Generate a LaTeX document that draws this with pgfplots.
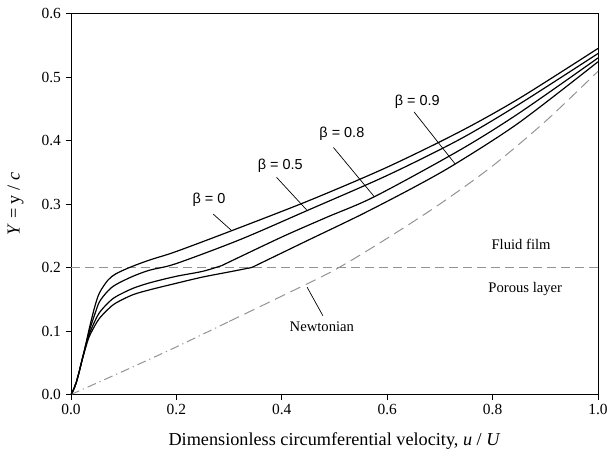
\documentclass[border=0pt]{standalone}
\usepackage{fontspec}
\setmainfont{Liberation Serif}
\newfontfamily\arialfont{Liberation Sans}
\usepackage{pgfplots}
\pgfplotsset{compat=1.18}
\begin{document}
\fontsize{14.7}{17}\selectfont
\begin{tikzpicture}
\begin{axis}[
  scale only axis, width=527bp, height=381bp,
  xmin=0, xmax=1, ymin=0, ymax=0.6,
  xtick={0,0.2,0.4,0.6,0.8,1}, ytick={0,0.1,0.2,0.3,0.4,0.5,0.6},
  tick align=outside, tick pos=left, major tick length=5bp,
  xticklabel style={/pgf/number format/.cd, fixed, fixed zerofill, precision=1, assume math mode=true},
  yticklabel style={/pgf/number format/.cd, fixed, fixed zerofill, precision=1, assume math mode=true},
  tick label style={font=\fontsize{15.5}{17}\selectfont},
  label style={font=\fontsize{18.3}{21}\selectfont},
  xlabel={Dimensionless circumferential velocity, \textit{u} / \textit{U}},
  ylabel={\textit{Y} = y / \textit{c}},
  xlabel style={at={(axis description cs:0.5,-0.122)}, anchor=center},
  ylabel style={at={(axis description cs:-0.1053,0.5)}, anchor=center},
  axis line style={line width=1pt},
  every tick/.style={black, line width=0.9pt},
]
% interface line
\addplot[gray!85, dashed, dash pattern=on 9bp off 5bp, line width=0.9pt] coordinates {(0,0.2) (1,0.2)};
% Newtonian
\addplot[gray!85, line width=1pt, dash pattern=on 9bp off 4bp on 1.2bp off 4bp, smooth] coordinates {
(0,0) (0.1,0.037) (0.2,0.075) (0.3,0.115)};
\addplot[gray!85, line width=1pt, dash pattern=on 11bp off 6bp, smooth] coordinates {
(0.3,0.115) (0.4,0.155) (0.5,0.196) (0.6,0.246) (0.7,0.300) (0.8,0.36) (0.9,0.43) (1.0,0.509)};
% beta = 0
\addplot[black, line width=1.2pt, smooth, tension=0.5] coordinates {
(0,0) (0.005,0.008) (0.01,0.019) (0.015,0.034) (0.02,0.051) (0.025,0.068) (0.03,0.086)
(0.035,0.105) (0.045,0.138) (0.054,0.160) (0.07,0.180) (0.085,0.190) (0.114,0.201)
(0.15,0.212) (0.199,0.225) (0.305,0.258) (0.4535,0.306) (0.6,0.358) (0.738,0.414) (0.85,0.466) (1.0,0.545)};
% beta = 0.5
\addplot[black, line width=1.2pt, smooth, tension=0.5] coordinates {
(0,0) (0.005,0.008) (0.01,0.019) (0.015,0.034) (0.02,0.051) (0.025,0.068) (0.03,0.085)
(0.035,0.101) (0.045,0.126) (0.054,0.146) (0.07,0.163) (0.085,0.173) (0.117,0.186)
(0.15,0.196) (0.199,0.206) (0.321,0.244) (0.449,0.290) (0.6,0.345) (0.738,0.402) (0.85,0.457) (1.0,0.537)};
% beta = 0.8
\addplot[black, line width=1.2pt, smooth, tension=0.5] coordinates {
(0,0) (0.005,0.008) (0.01,0.019) (0.015,0.034) (0.02,0.051) (0.025,0.067) (0.03,0.082)
(0.035,0.096) (0.045,0.115) (0.054,0.129) (0.07,0.144) (0.085,0.154) (0.117,0.167)
(0.15,0.176) (0.199,0.186) (0.25,0.194) (0.286,0.203)};
\addplot[black, line width=1.2pt, smooth, tension=0.5] coordinates {
(0.286,0.203) (0.4,0.248) (0.485,0.279) (0.577,0.312) (0.738,0.385) (0.85,0.443) (1.0,0.530)};
% beta = 0.9
\addplot[black, line width=1.2pt, smooth, tension=0.5] coordinates {
(0,0) (0.005,0.008) (0.01,0.019) (0.015,0.034) (0.02,0.051) (0.025,0.066) (0.03,0.080)
(0.035,0.092) (0.045,0.108) (0.054,0.120) (0.07,0.134) (0.085,0.144) (0.117,0.157)
(0.15,0.165) (0.199,0.175) (0.25,0.185) (0.3,0.193) (0.343,0.200)};
\addplot[black, line width=1.2pt, smooth, tension=0.5] coordinates {
(0.343,0.200) (0.45,0.243) (0.55,0.283) (0.65,0.326) (0.729,0.363) (0.85,0.428) (1.0,0.524)};
% leaders
\draw[black, line width=0.7pt] (axis cs:0.270,0.284) -- (axis cs:0.305,0.258);
\draw[black, line width=0.7pt] (axis cs:0.390,0.342) -- (axis cs:0.449,0.289);
\draw[black, line width=0.7pt] (axis cs:0.498,0.389) -- (axis cs:0.576,0.311);
\draw[black, line width=0.7pt] (axis cs:0.651,0.445) -- (axis cs:0.729,0.363);
\draw[black, line width=0.7pt] (axis cs:0.448,0.169) -- (axis cs:0.478,0.124);
% labels
\node[font=\arialfont\fontsize{14.5}{17}\selectfont] at (axis cs:0.262,0.306) {β = 0};
\node[font=\arialfont\fontsize{14.5}{17}\selectfont] at (axis cs:0.397,0.360) {β = 0.5};
\node[font=\arialfont\fontsize{14.5}{17}\selectfont] at (axis cs:0.514,0.410) {β = 0.8};
\node[font=\arialfont\fontsize{14.5}{17}\selectfont] at (axis cs:0.657,0.461) {β = 0.9};
\node[font=\fontsize{14.7}{17}\selectfont] at (axis cs:0.476,0.106) {Newtonian};
\node[font=\fontsize{14.7}{17}\selectfont] at (axis cs:0.854,0.237) {Fluid film};
\node[font=\fontsize{14.7}{17}\selectfont] at (axis cs:0.862,0.166) {Porous layer};
\end{axis}
\pgfresetboundingbox
\path[use as bounding box] (-71bp,-66.5bp) rectangle (536bp,394.5bp);
\end{tikzpicture}
\end{document}
